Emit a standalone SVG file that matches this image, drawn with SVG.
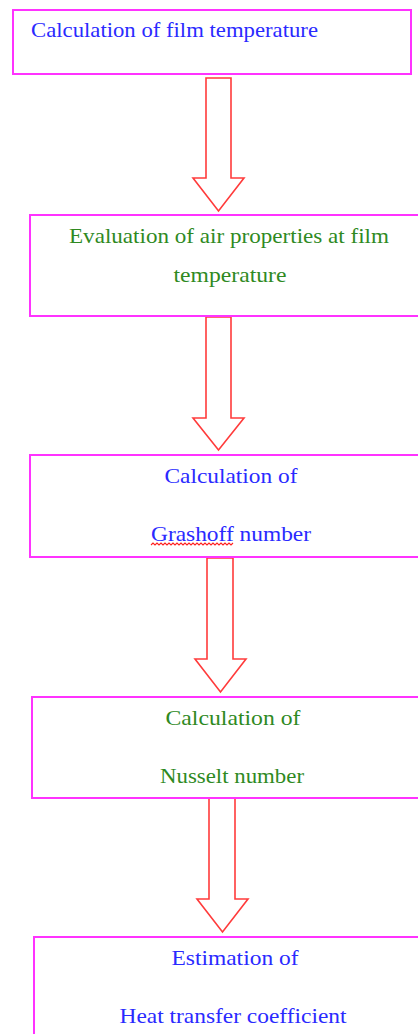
<svg xmlns="http://www.w3.org/2000/svg" width="418" height="1034" viewBox="0 0 418 1034">
<style>
.box{fill:#fff;stroke:#ff33ff;stroke-width:2}
.arrow{fill:#fff;stroke:#ff3b3b;stroke-width:1.6;stroke-linejoin:miter}
text{font-family:"Liberation Serif","Times New Roman",serif;font-size:22px}
.b{fill:#2a2aff}
.g{fill:#2f8a1f}
.c{text-anchor:middle}
</style>
<rect width="418" height="1034" fill="#fff"/>
<g id="connectors">
<polygon class="arrow" points="206,78 231,78 231,178 244,178 218.5,211 193,178 206,178"/>
<polygon class="arrow" points="206,317 231,317 231,418 244,418 218.5,450 193,418 206,418"/>
<polygon class="arrow" points="207,558 233,558 233,659 246,659 220.5,692 195,659 207,659"/>
<polygon class="arrow" points="209,798 235,798 235,899 248,899 222.5,932 197,899 209,899"/>
</g>
<g id="node1">
<rect class="box" x="13" y="10" width="398" height="64"/>
<text class="b" x="31" y="37" textLength="287" lengthAdjust="spacingAndGlyphs">Calculation of film temperature</text>
</g>
<g id="node2">
<rect class="box" x="30" y="215" width="400" height="101"/>
<text class="g c" x="229" y="243" textLength="320" lengthAdjust="spacingAndGlyphs">Evaluation of air properties at film</text>
<text class="g c" x="230" y="282" textLength="113" lengthAdjust="spacingAndGlyphs">temperature</text>
</g>
<g id="node3">
<rect class="box" x="30" y="455" width="400" height="102"/>
<text class="b c" x="231" y="483" textLength="133" lengthAdjust="spacingAndGlyphs">Calculation of</text>
<text class="b c" x="231" y="541" textLength="160" lengthAdjust="spacingAndGlyphs">Grashoff number</text>
<path d="M151,545 l2,-2 l2,2 l2,-2 l2,2 l2,-2 l2,2 l2,-2 l2,2 l2,-2 l2,2 l2,-2 l2,2 l2,-2 l2,2 l2,-2 l2,2 l2,-2 l2,2 l2,-2 l2,2 l2,-2 l2,2 l2,-2 l2,2 l2,-2 l2,2 l2,-2 l2,2 l2,-2 l2,2 l2,-2 l2,2 l2,-2 l2,2 l2,-2 l2,2 l2,-2 l2,2 l2,-2 l2,2 l2,-2" fill="none" stroke="#ff2020" stroke-width="1.1"/>
</g>
<g id="node4">
<rect class="box" x="32" y="697" width="400" height="101"/>
<text class="g c" x="233" y="725" textLength="135" lengthAdjust="spacingAndGlyphs">Calculation of</text>
<text class="g c" x="232" y="783" textLength="144" lengthAdjust="spacingAndGlyphs">Nusselt number</text>
</g>
<g id="node5">
<rect class="box" x="34" y="937" width="400" height="110"/>
<text class="b c" x="235" y="965" textLength="127" lengthAdjust="spacingAndGlyphs">Estimation of</text>
<text class="b c" x="233" y="1023" textLength="227" lengthAdjust="spacingAndGlyphs">Heat transfer coefficient</text>
</g>
</svg>
